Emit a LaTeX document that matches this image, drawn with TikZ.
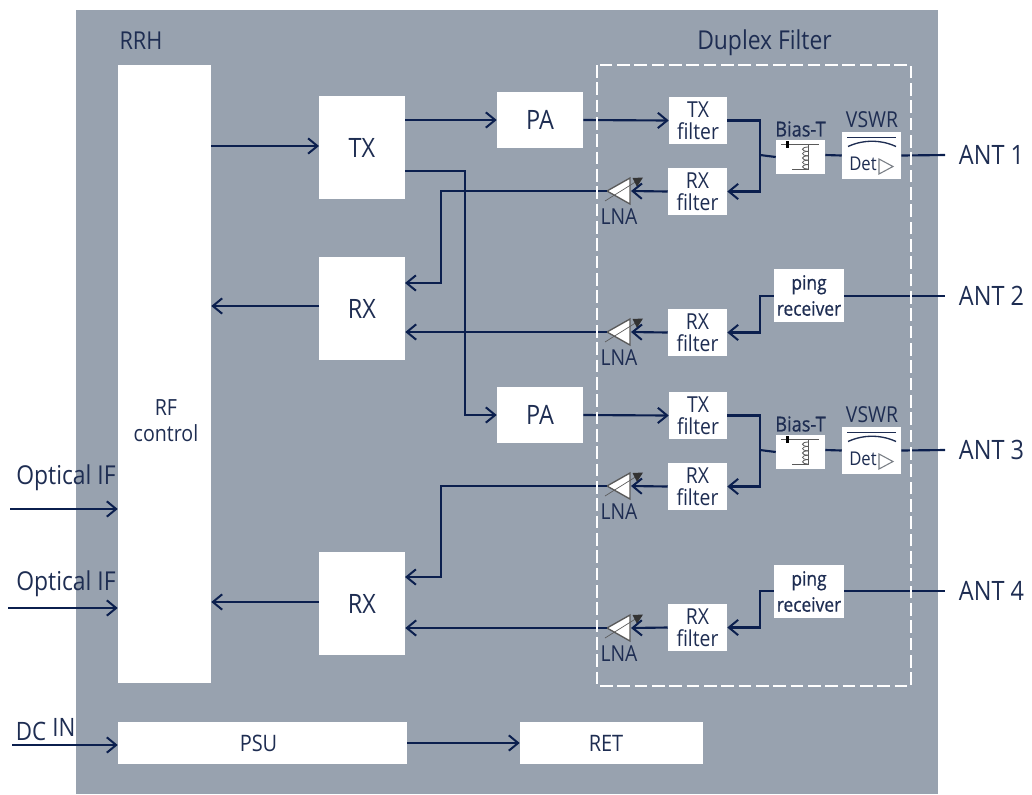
\documentclass[tikz,border=0pt]{standalone}
\usepackage{fontspec}
\setmainfont[FakeStretch=0.88]{Open Sans}
\newfontfamily\semib[FakeStretch=0.88,FakeBold=0.6]{Open Sans}
\usetikzlibrary{arrows.meta,calc}
\definecolor{panel}{HTML}{98A2AF}
\definecolor{ink}{HTML}{0B1F4E}
\definecolor{txt}{HTML}{1E2D52}
\definecolor{lnagrey}{HTML}{5A5A5A}
\newcommand\fbig{\fontsize{20}{24}\selectfont}
\newcommand\fmed{\fontsize{16.5}{16.5}\selectfont}
\newcommand\wb[7]{\node[wbox,minimum width={(#4-#2)*0.75pt},minimum height={(#5-#3)*0.75pt},font=#6] (#1) at ({(#2+#4)/2},{(#3+#5)/2}) {#7};}
\newcommand\lna[2]{%
  \coordinate (#1-l) at (607,#2);
  \coordinate (#1-r) at (631,#2);
  \draw[lnagrey,fill=white,line width=1pt,line join=miter] (607,#2) -- (630,#2-13) -- (630,#2+13) -- cycle;
  \draw[lnagrey,line width=0.5pt] (605,#2+10) -- (637,#2-10);
  \fill[black!80] (632.5,#2-13) -- (643,#2-13.5) -- (637,#2-4) -- cycle;
  \node[txtlab,font=\fontsize{16.5}{18}\selectfont] (#1-t) at (619,#2+26) {LNA};
}
\newcommand\biast[1]{%
  \node[txtlab,font=\fontsize{15.5}{17}\semib] (biast#1) at (800.5,#1-26) {Bias-T};
  \draw[lnagrey,line width=0.7pt] (781,#1-10.7) -- (819,#1-10.7);
  \fill[black] (785.5,#1-14) rectangle (788.5,#1-7.5);
  \draw[lnagrey,line width=0.7pt] (808.5,#1-10.7) -- (808.5,#1+14) -- (792,#1+14);
  \foreach \k in {0,1,2,3,4}
    \draw[lnagrey,line width=0.6pt] (808.5,#1-8+4.4*\k) .. controls (800.5,#1-8+4.4*\k) and (800.5,#1-3.6+4.4*\k) .. (808.5,#1-3.6+4.4*\k);
}
\newcommand\vswr[1]{%
  \node[txtlab,font=\fontsize{16.5}{18}\selectfont] (vswrt#1) at (872,#1-35) {VSWR};
  \draw[txt,line width=1pt] (847,#1-17.3) -- (896,#1-17.3);
  \draw[txt,line width=1pt] (848,#1-8.5) .. controls (863,#1-15.5) and (881,#1-15.5) .. (896,#1-8.5);
  \node[txtlab,font=\fontsize{14.2}{16}\selectfont] (det#1) at (863,#1+9) {Det};
  \draw[lnagrey!50!panel,line width=0.8pt] (879,#1+4) -- (893,#1+11.5) -- (879,#1+19) -- cycle;
}
\tikzset{
  wbox/.style={fill=white,draw=none,inner sep=0pt,align=center,text=txt},
  txtlab/.style={inner sep=0pt,text=txt,align=center},
  conn/.style={ink,line width=1.6pt,line join=miter},
  arr/.style={conn,-{Straight Barb[length=7pt,width=11.5pt,line width=1.5pt]}},
}
\begin{document}
\begin{tikzpicture}[x=0.75pt,y=-0.75pt]
\useasboundingbox (0,0) rectangle (1032,794);
\fill[panel] (76,10) rectangle (938,794);

% blocks
\wb{rf}{118}{65}{211}{683}{\fmed}{}
\wb{tx}{319}{96}{405}{199}{\fbig}{TX}
\wb{rxa}{319}{257}{405}{360}{\fbig}{RX}
\wb{rxb}{319}{552}{405}{655}{\fbig}{RX}
\wb{paa}{497}{92}{583}{148}{\fbig}{PA}
\wb{pab}{497}{387}{583}{443}{\fbig}{PA}
\wb{txfa}{669}{97}{727}{144}{\fmed}{TX\\filter}
\wb{rxfa}{668}{168}{727}{215}{\fmed}{RX\\filter}
\wb{rxfb}{668}{309}{727}{356}{\fmed}{RX\\filter}
\wb{txfc}{669}{392}{727}{439}{\fmed}{TX\\filter}
\wb{rxfc}{668}{463}{727}{510}{\fmed}{RX\\filter}
\wb{rxfd}{668}{604}{727}{651}{\fmed}{RX\\filter}
\wb{bta}{776}{140}{825}{174}{\fmed}{}
\wb{btc}{776}{435}{825}{469}{\fmed}{}
\wb{vsa}{842}{132}{901}{179}{\fmed}{}
\wb{vsc}{842}{427}{901}{474}{\fmed}{}
\wb{pingb}{774}{269}{844}{322}{\fontsize{14.8}{19.5}\semib}{ping\\receiver}
\wb{pingd}{774}{565}{844}{618}{\fontsize{14.8}{19.5}\semib}{ping\\receiver}
\wb{psu}{118}{722}{407}{764}{\fmed}{}
\wb{ret}{520}{722}{703}{764}{\fmed}{}

% symbols
\biast{155}\biast{450}
\vswr{155}\vswr{450}
\lna{la}{191}\lna{lb}{332}\lna{lc}{486}\lna{ld}{628}

% free labels
\node[txtlab,font=\fontsize{16.7}{19.5}\selectfont] (rft) at (166,421) {RF\\control};
\node[txtlab,font=\fontsize{17}{20}\selectfont] (psut) at (258.5,743) {PSU};
\node[txtlab,font=\fontsize{17}{20}\selectfont] (rett) at (606,743) {RET};
\node[txtlab,font=\fontsize{18.5}{20}\selectfont] (rrh) at (141,41) {RRH};
\node[txtlab,font=\fontsize{19.5}{22}\selectfont] (dup) at (764.5,43) {Duplex Filter};
\node[txtlab,font=\fbig] (anta) at (991.5,155) {ANT 1};
\node[txtlab,font=\fbig] (antb) at (991.5,296) {ANT 2};
\node[txtlab,font=\fbig] (antc) at (991.5,450) {ANT 3};
\node[txtlab,font=\fbig] (antd) at (991.5,591) {ANT 4};
\node[txtlab,font=\fontsize{19.5}{22}\selectfont] (opa) at (66,478) {Optical IF};
\node[txtlab,font=\fontsize{19.5}{22}\selectfont] (opb) at (66,584) {Optical IF};
\node[txtlab,font=\fontsize{19}{22}\selectfont] (dc) at (31,731) {DC};
\node[txtlab,font=\fontsize{19}{22}\selectfont] (dcin) at (64,727) {IN};

% free ends and bends
\coordinate (oa) at (10,509);
\coordinate (ob) at (8,608);
\coordinate (dcs) at (12,745);
\coordinate (txo) at (405,171);
\coordinate (txi) at (319,146);
\coordinate (rxao) at (319,306);
\coordinate (rxbo) at (319,602);
\coordinate (xa) at (465,171);
\coordinate (rxain) at (405,283);
\coordinate (rxbin) at (405,577);
\coordinate (bend) at (441,191);
\coordinate (jna) at (760,155);
\coordinate (jnc) at (760,450);
\coordinate (ra) at (945,155);
\coordinate (rb) at (945,296);
\coordinate (rc) at (945,450);
\coordinate (rd) at (945,591);

% connectors
\draw[arr] (oa) -- (rf.west |- oa);
\draw[arr] (ob) -- (rf.west |- ob);
\draw[arr] (dcs) -- (psu.west |- dcs);
\draw[arr] (psu.east) -- (ret.west);
\draw[arr] (rf.east |- txi) -- (txi);
\draw[arr] (tx.east |- paa.west) -- (paa.west);
\draw[arr] (txo) -- (xa) -- (xa |- pab.west) -- (pab.west);
\draw[arr] (paa.east) -- (txfa.west);
\draw[arr] (pab.east) -- (txfc.west);
\draw[arr] (rxao) -- (rf.east |- rxao);
\draw[arr] (rxbo) -- (rf.east |- rxbo);
% branch 1
\draw[arr] (txfa.east) -| (jna) |- (rxfa.east);
\draw[conn] (jna) -- (bta.west);
\draw[conn] (bta.east |- jna) -- (vsa.west);
\draw[conn] (vsa.east) -- (ra);
\draw[arr] (rxfa.west) -- (la-r);
\draw[arr] (la-l) -| (bend) |- (rxain);
% branch 2
\draw[conn] (pingb.east |- rb) -- (rb);
\draw[arr] (pingb.west |- rb) -| (jna |- rxfb.east) -- (rxfb.east);
\draw[arr] (rxfb.west) -- (lb-r);
\draw[arr] (lb-l) -- (rxa.east |- lb-l);
% branch 3
\draw[arr] (txfc.east) -| (jnc) |- (rxfc.east);
\draw[conn] (jnc) -- (btc.west);
\draw[conn] (btc.east |- jnc) -- (vsc.west);
\draw[conn] (vsc.east) -- (rc);
\draw[arr] (rxfc.west) -- (lc-r);
\draw[arr] (lc-l) -- (bend |- lc-l) -- (bend |- rxbin) -- (rxbin);
% branch 4
\draw[conn] (pingd.east |- rd) -- (rd);
\draw[arr] (pingd.west |- rd) -| (jnc |- rxfd.east) -- (rxfd.east);
\draw[arr] (rxfd.west) -- (ld-r);
\draw[arr] (ld-l) -- (rxb.east |- ld-l);

% duplex boundary
\draw[white,line width=1.9pt,dash pattern=on 9.5pt off 3.5pt] (597,65) rectangle (911,686);
\end{tikzpicture}
\end{document}
